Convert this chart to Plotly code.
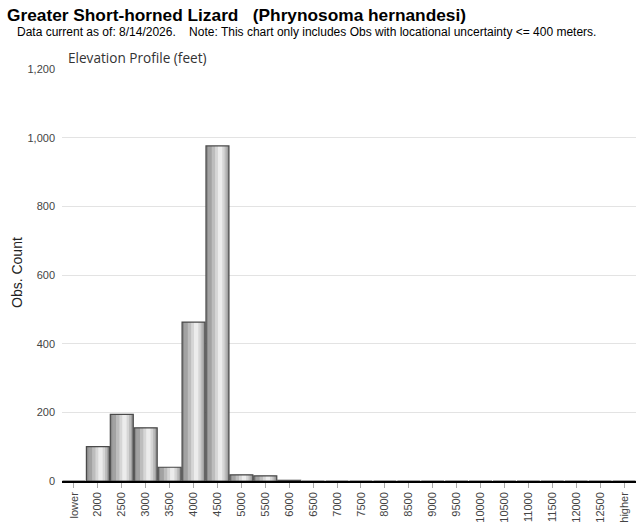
import plotly.graph_objects as go

categories = ["lower"] + [str(v) for v in range(2000, 13000, 500)] + ["higher"]
counts = [0, 100, 194, 155, 40, 463, 976, 18, 15, 2, 0, 0, 0, 0, 0, 0, 0, 0, 0, 0, 0, 0, 0, 0]

title = "Greater Short-horned Lizard   (Phrynosoma hernandesi)"
subtitle = "Data current as of: 8/14/2026.    Note: This chart only includes Obs with locational uncertainty <= 400 meters."
chart_title = "Elevation Profile (feet)"
y_title = "Obs. Count"

fig = go.Figure()
# cylinder-like shading built from overlaid bars of the same data
layers = [
    (0.96, -0.48, "#8a8a8a"),
    (0.84, -0.40, "#a2a2a2"),
    (0.62, -0.24, "#bdbdbd"),
    (0.40, -0.10, "#d6d6d6"),
    (0.18, 0.02, "#ececec"),
]
for w, off, col in layers:
    fig.add_trace(go.Bar(x=categories, y=counts, width=w, offset=off,
                         marker=dict(color=col, line=dict(width=0)),
                         hoverinfo="skip", showlegend=False))
fig.add_trace(go.Bar(x=categories, y=counts, width=0.96, offset=-0.48,
                     marker=dict(color="rgba(0,0,0,0)", line=dict(color="#4a4a4a", width=1.2)),
                     showlegend=False))

L, R, T, B = 62, 4, 69, 42
W, H = 640, 523
fig.update_layout(
    width=W, height=H,
    barmode="overlay",
    plot_bgcolor="white", paper_bgcolor="white",
    margin=dict(l=L, r=R, t=T, b=B, autoexpand=False),
    font=dict(family="Liberation Sans, Arial", color="#444"),
    xaxis=dict(type="category", tickangle=-90, ticks="outside", ticklen=5,
               tickcolor="#aaa", showline=True, linecolor="black", linewidth=1.5,
               tickfont=dict(size=11, color="#444"), showgrid=False, automargin=False,
               range=[-0.5, len(categories) - 0.5]),
    yaxis=dict(range=[0, 1200], dtick=200, tickformat=",", gridcolor="#e3e3e3",
               showline=False, zeroline=False, ticks="", automargin=False,
               ticklabelstandoff=6,
               tickfont=dict(size=11, color="#444")),
)
plot_w = W - L - R
plot_h = H - T - B
def px(x, y):
    return (x - L) / plot_w, (H - y - B) / plot_h
annos = [
    ("<b>" + title + "</b>", 5, 15, 17.3, "Liberation Sans", "black", 0, "left"),
    (subtitle, 15, 32, 12, "Liberation Sans", "black", 0, "left"),
    (chart_title, 66, 57, 13.6, "Open Sans", "#333", 0, "left"),
    (y_title, 17, 273, 14, "Liberation Sans", "#222", -90, "center"),
]
for text, x, y, size, fam, col, ang, xa in annos:
    ax, ay = px(x, y)
    fig.add_annotation(text=text, x=ax, y=ay, xref="paper", yref="paper",
                       showarrow=False, xanchor=xa, yanchor="middle", textangle=ang,
                       font=dict(family=fam, size=size, color=col))

fig.write_html("out.html", config={"displayModeBar": False},
               post_script="document.body.style.margin='0';document.body.style.overflow='hidden';")
